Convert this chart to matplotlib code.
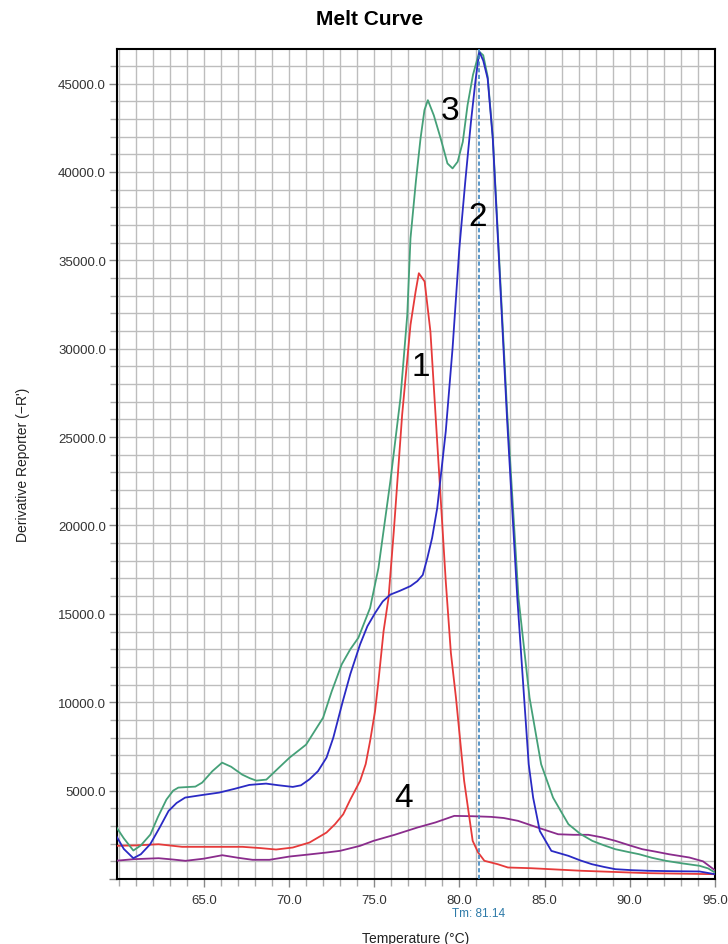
import matplotlib
matplotlib.use("Agg")
import matplotlib.pyplot as plt
from matplotlib.ticker import MultipleLocator, FixedLocator, FuncFormatter

plt.rcParams['font.family'] = ['Liberation Sans', 'DejaVu Sans']

# Melt-curve derivative traces (temperature in degC, -dR/dT)
temp_1 = [59.8, 61.0, 62.34, 63.72, 65.5, 67.27, 68.3, 69.24, 70.22, 71.2, 72.2, 72.7,
          73.18, 73.6, 74.17, 74.5, 74.76, 75.05, 75.25, 75.55, 75.84, 76.15, 76.64,
          77.13, 77.43, 77.62, 77.96, 78.3, 78.6, 78.9, 79.2, 79.5, 79.8, 80.28, 80.78,
          81.1, 81.47, 82.25, 82.85, 84.2, 87.2, 91.13, 95.0]
deriv_1 = [1876, 1900, 1966, 1819, 1819, 1819, 1750, 1667, 1780, 2062, 2627, 3100,
           3660, 4500, 5548, 6500, 7810, 9500, 11200, 14020, 15900, 19670, 26260,
           31350, 33230, 34270, 33800, 30970, 26260, 21560, 16850, 12800, 10250, 5548, 2158,
           1500, 1028, 836, 650, 610, 463, 328, 271]

temp_2 = [59.8, 60.3, 60.86, 61.3, 61.85, 62.4, 62.93, 63.4, 63.9, 64.9, 65.9, 66.8,
          67.67, 68.65, 69.4, 70.22, 70.7, 71.2, 71.7, 72.2, 72.6, 73.16, 73.6, 74.17,
          74.6, 75.06, 75.5, 75.95, 76.5, 77.13, 77.53, 77.85, 78.12, 78.4, 78.7, 79.2,
          79.6, 80.0, 80.35, 80.68, 80.95, 81.17, 81.4, 81.66, 81.96, 82.26, 82.8, 83.4,
          83.8, 84.07, 84.33, 84.72, 85.4, 86.4, 87.1, 87.78, 88.5, 89.16, 90.1, 91.13,
          92.6, 94.1, 95.0]
deriv_2 = [2530, 1700, 1175, 1400, 1966, 2900, 3853, 4300, 4605, 4750, 4887, 5100,
           5322, 5396, 5300, 5209, 5300, 5639, 6100, 6865, 8000, 10070, 11600, 13270,
           14300, 15060, 15700, 16090, 16300, 16570, 16850, 17200, 18160, 19300, 20990, 25320,
           30030, 35700, 39500, 42840, 45200, 46800, 46300, 45280, 41900, 36250, 26000, 15900,
           10250, 6490, 4600, 2720, 1590, 1310, 1050, 836, 680, 554, 500, 463,
           440, 424, 271]

temp_3 = [59.8, 60.3, 60.86, 61.3, 61.86, 62.3, 62.8, 63.2, 63.5, 64.0, 64.5, 64.9,
          65.5, 66.07, 66.6, 67.25, 67.7, 68.08, 68.67, 69.3, 70.03, 71.0, 72.0, 72.5,
          73.09, 73.6, 74.07, 74.76, 75.25, 75.95, 76.54, 76.94, 77.13, 77.45, 77.72,
          77.95, 78.15, 78.5, 78.9, 79.3, 79.6, 79.9, 80.2, 80.48, 80.8, 81.17, 81.4,
          81.66, 81.96, 82.26, 82.8, 83.47, 84.12, 84.8, 85.5, 86.4, 87.1, 87.8, 88.5,
          89.16, 89.9, 90.55, 91.3, 92.12, 93.1, 94.1, 94.6, 95.0]
deriv_3 = [3023, 2300, 1610, 1900, 2514, 3500, 4490, 5000, 5170, 5200, 5226, 5452,
           6100, 6582, 6350, 5904, 5700, 5565, 5622, 6200, 6865, 7600, 9125, 10600,
           12136, 13000, 13645, 15340, 17600, 22515, 27200, 31900, 36250, 39500, 41900,
           43500, 44060, 43200, 41900, 40480, 40200, 40580, 41700, 43780, 45500, 46800, 46600,
           45400, 42000, 36500, 26500, 15900, 10250, 6490, 4600, 3100, 2550, 2158, 1900,
           1684, 1530, 1401, 1200, 1028, 880, 746, 600, 367]

temp_4 = [59.8, 60.86, 62.34, 63.2, 63.92, 65.0, 66.08, 67.0, 67.86, 68.85, 70.03, 71.1,
          72.2, 73.0, 74.17, 74.96, 76.2, 77.53, 78.6, 79.7, 80.8, 81.86, 82.6, 83.44,
          84.6, 85.8, 86.7, 87.57, 88.4, 89.16, 90.0, 90.74, 91.5, 92.3, 93.5, 94.3, 95.0]
deriv_4 = [1028, 1119, 1175, 1100, 1028, 1150, 1345, 1200, 1085, 1085, 1271, 1380,
           1497, 1593, 1876, 2158, 2500, 2910, 3200, 3570, 3550, 3514, 3450, 3290,
           2910, 2530, 2500, 2500, 2350, 2158, 1900, 1684, 1550, 1401, 1215, 1000, 497]

tm_value = 81.14
x_tick_values = [65, 70, 75, 80, 85, 90, 95]
curve_labels = ["1", "2", "3", "4"]
label_pos = [(77.72, 29000), (81.07, 37500), (79.43, 43500), (76.73, 4600)]

fig = plt.figure(figsize=(7.28, 9.45), dpi=100)
ax = fig.add_axes([0.1607, 0.0688, 0.8213, 0.8782])

ax.plot(temp_4, deriv_4, color="#8a2c8c", lw=1.3, zorder=3)
ax.plot(temp_1, deriv_1, color="#e63a3a", lw=1.3, zorder=4)
ax.plot(temp_3, deriv_3, color="#45a078", lw=1.3, zorder=5)
ax.plot(temp_2, deriv_2, color="#2a2ac4", lw=1.3, zorder=6)

ax.axvline(tm_value, color="#3d86c0", lw=1.2, ls=(0, (2.5, 1.5)), zorder=7)

for lab, (lx, ly) in zip(curve_labels, label_pos):
    ax.text(lx, ly, lab, fontsize=24, ha="center", va="center", color="black", zorder=8)

ax.set_xlim(59.9, 95.0)
ax.set_ylim(0, 46950)

ax.xaxis.set_major_locator(FixedLocator(x_tick_values))
ax.xaxis.set_minor_locator(MultipleLocator(1))
ax.yaxis.set_major_locator(MultipleLocator(5000))
ax.yaxis.set_minor_locator(MultipleLocator(1000))
ax.xaxis.set_major_formatter(FuncFormatter(lambda v, p: f"{v:.1f}"))
ax.yaxis.set_major_formatter(FuncFormatter(lambda v, p: f"{v:.1f}" if v > 0 else ""))

ax.grid(which="both", color="#bdbdbd", lw=1.0, zorder=0)
ax.set_axisbelow(True)
ax.tick_params(which="major", length=6, width=1.0, color="#888888",
               labelsize=9.5, labelcolor="#333333", pad=2)
ax.tick_params(which="minor", length=5, width=1.0, color="#aaaaaa")
ax.tick_params(axis="x", which="major", pad=4.5)

for s in ax.spines.values():
    s.set_color("black")
    s.set_linewidth(1.5)

ax.set_ylabel("Derivative Reporter (\u2212R')", fontsize=10, color="#222222")
ax.yaxis.set_label_coords(-0.146, 0.5)
ax.set_xlabel("Temperature (\u00b0C)", fontsize=10, color="#222222")
ax.xaxis.set_label_coords(0.5, -0.063)

ax.text(tm_value, -0.0405, f"Tm: {tm_value:.2f}", transform=ax.get_xaxis_transform(),
        ha="center", va="center", fontsize=8.5, color="#2d7aa8")

fig.text(0.508, 0.979, "Melt Curve", ha="center", va="center",
         fontsize=15, fontweight="bold", color="black")

fig.savefig("out.png", dpi=100)
